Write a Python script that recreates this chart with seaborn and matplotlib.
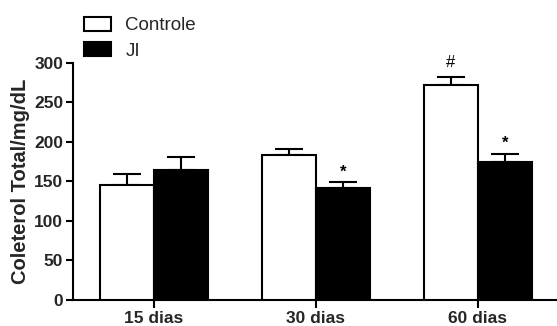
import matplotlib
matplotlib.use("Agg")
import matplotlib.pyplot as plt
import seaborn as sns
import pandas as pd

categories = ["15 dias", "30 dias", "60 dias"]
groups = ["Controle", "JI"]
controle = [145, 183, 272]
ji = [164, 142, 175]
controle_err = [14, 8.5, 10]
ji_err = [16.5, 7, 10]
controle_marks = ["", "", "#"]
ji_marks = ["", "*", "*"]
ylabel = "Coleterol Total/mg/dL"
yticks = [0, 50, 100, 150, 200, 250, 300]

df = pd.DataFrame({
    "dia": categories * 2,
    "grupo": [groups[0]] * 3 + [groups[1]] * 3,
    "valor": controle + ji,
})

sns.set_style("ticks")
plt.rcParams["font.family"] = ["Liberation Sans", "DejaVu Sans"]

fig = plt.figure(figsize=(5.57, 3.26), dpi=100)
ax = fig.add_axes([73 / 557, 26 / 326, (557 - 73) / 557, 237.3 / 326])

sns.barplot(data=df, x="dia", y="valor", hue="grupo", order=categories,
            hue_order=groups, palette={"Controle": "white", "JI": "black"},
            edgecolor="black", linewidth=1.5, width=0.667, errorbar=None,
            ax=ax, zorder=3)

mark_style = {"#": dict(weight="normal", offset=7.5),
              "*": dict(weight="bold", offset=4)}

bar_conts = list(ax.containers)
errs = [controle_err, ji_err]
marks = [controle_marks, ji_marks]
for ci, cont in enumerate(bar_conts):
    for bi, rect in enumerate(cont.patches):
        x = rect.get_x() + rect.get_width() / 2
        top = rect.get_height()
        e = errs[ci][bi]
        ax.errorbar([x], [top], yerr=[[0], [e]], fmt="none", ecolor="black",
                    elinewidth=1.5, capsize=10.4, capthick=1.5, zorder=2)
        m = marks[ci][bi]
        if m:
            st = mark_style[m]
            ax.annotate(m, (x, top + e), xytext=(0, st["offset"]),
                        textcoords="offset points", ha="center",
                        va="baseline", fontsize=12, fontweight=st["weight"],
                        color="black")

handles, labels = ax.get_legend_handles_labels()
if ax.get_legend() is not None:
    ax.get_legend().remove()
fig.legend(handles, labels, loc="upper left", bbox_to_anchor=(84 / 557, 1 - 17 / 326),
           frameon=False, borderpad=0, borderaxespad=0, fontsize=13.5,
           handlelength=1.45, handleheight=0.75, handletextpad=0.75,
           labelspacing=0.42)

ax.set_xlim(-0.5, 2.49)
ax.set_ylim(0, 300)
ax.set_yticks(yticks)
ax.set_xlabel("")
ax.set_ylabel(ylabel, fontsize=14.5, fontweight="bold", labelpad=3)
for lab in ax.get_yticklabels():
    lab.set_fontweight("bold")
for lab in ax.get_xticklabels():
    lab.set_fontweight("bold")
ax.tick_params(axis="y", labelsize=12.5, length=5, width=1.5, pad=2, color="black")
ax.tick_params(axis="x", labelsize=12.5, length=6, width=1.5, pad=2, color="black")
sns.despine(ax=ax)
for s in ["left", "bottom"]:
    ax.spines[s].set_linewidth(1.5)
    ax.spines[s].set_color("black")

fig.savefig("out.png", dpi=100)
